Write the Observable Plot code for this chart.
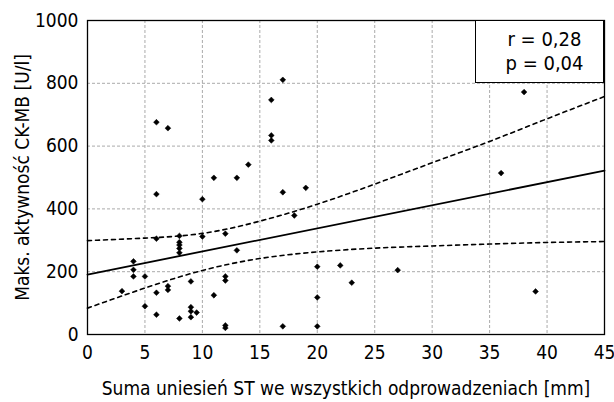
<!DOCTYPE html>
<html><head><meta charset="utf-8">
<script src="https://cdn.jsdelivr.net/npm/d3@7"></script>
<script src="https://cdn.jsdelivr.net/npm/@observablehq/plot@0.6"></script>
<style>
body{margin:0;background:#fff;}
#wrap{position:relative;width:614px;height:402px;font-family:"DejaVu Sans Condensed","DejaVu Sans",sans-serif;}
#legend{position:absolute;left:475px;top:20px;width:129px;height:63px;box-sizing:border-box;border:1px solid #000;background:#fff;font-size:20px;line-height:24px;padding-top:6px;padding-left:10px;text-align:center;color:#000;}
</style></head><body><div id="wrap"></div>
<script>
// Sum of ST elevations [mm]
const stSum = [3,4,4,4,5,5,6,6,6,6,6,7,7,7,8,8,8,8,8,8,9,9,9,9,9.5,10,10,11,11,12,12,12,12,12,13,13,14,16,16,16,17,17,17,18,19,20,20,20,22,23,27,36,38,39];
// Max CK-MB activity [U/l]
const ckmb = [138,233,206,185,185,90,676,447,305,133,63,657,154,142,314,294,285,274,260,51,169,87,74,55,70,431,312,499,125,321,185,172,29,21,499,268,541,747,634,618,811,453,26,379,467,216,118,26,220,165,205,514,772,137];
// Regression line
const regX = [0,45];
const regY = [191,522];
// Confidence band
const bandX = [0,5,10,15,20,25,30,35,40,45];
const bandUpper = [299,307,322,361,415,479,547,615,687,758];
const bandLower = [84,148,204,242,263,275,282,288,293,296];
// Ticks
const xTicks = [0,5,10,15,20,25,30,35,40,45];
const yTicks = [0,200,400,600,800,1000];
const xLabel = "Suma uniesień ST we wszystkich odprowadzeniach [mm]";
const yLabel = "Maks. aktywność CK-MB [U/l]";
const statLines = ["r = 0,28","p = 0,04"];

const points = stSum.map((x,i)=>({x, y: ckmb[i]}));

const chart = Plot.plot({
  width: 614, height: 402,
  marginLeft: 87, marginRight: 10, marginTop: 20, marginBottom: 68,
  style: {fontFamily: '"DejaVu Sans Condensed","DejaVu Sans",sans-serif', fontSize: "19px", background: "#fff", color: "#000"},
  x: {domain: [0,45]},
  y: {domain: [0,1000]},
  marks: [
    Plot.gridX(xTicks, {stroke: "#aaa", strokeOpacity: 1, strokeDasharray: "3,2"}),
    Plot.gridY(yTicks, {stroke: "#aaa", strokeOpacity: 1, strokeDasharray: "3,2"}),
    Plot.axisX(xTicks, {tickSize: 0, tickPadding: 11, tickFormat: d => String(d), label: null, fontSize: 19}),
    Plot.axisX({ticks: [], tickSize: 0, label: xLabel, labelAnchor: "center", labelOffset: 60, labelArrow: "none", fontSize: 19}),
    Plot.axisY(yTicks, {tickSize: 0, tickPadding: 9, tickFormat: d => String(d), label: null, fontSize: 19}),
    Plot.axisY({ticks: [], tickSize: 0, label: yLabel, labelAnchor: "center", labelOffset: 72, labelArrow: "none", fontSize: 19}),
    Plot.line({length: bandX.length}, {x: bandX, y: bandUpper, curve: "natural", stroke: "#000", strokeWidth: 1.6, strokeDasharray: "4,4"}),
    Plot.line({length: bandX.length}, {x: bandX, y: bandLower, curve: "natural", stroke: "#000", strokeWidth: 1.6, strokeDasharray: "4,4"}),
    Plot.line({length: regX.length}, {x: regX, y: regY, stroke: "#000", strokeWidth: 1.8}),
    Plot.dot(points, {x: "x", y: "y", symbol: "diamond2", r: 2.6, fill: "#000", stroke: "#000", strokeWidth: 0.5}),
    Plot.frame({stroke: "#000", strokeWidth: 1.3})
  ]
});
const wrap = document.getElementById("wrap");
wrap.appendChild(chart);
const leg = document.createElement("div");
leg.id = "legend";
leg.innerHTML = statLines.map(s=>`<div>${s}</div>`).join("");
wrap.appendChild(leg);
</script>
</body></html>
